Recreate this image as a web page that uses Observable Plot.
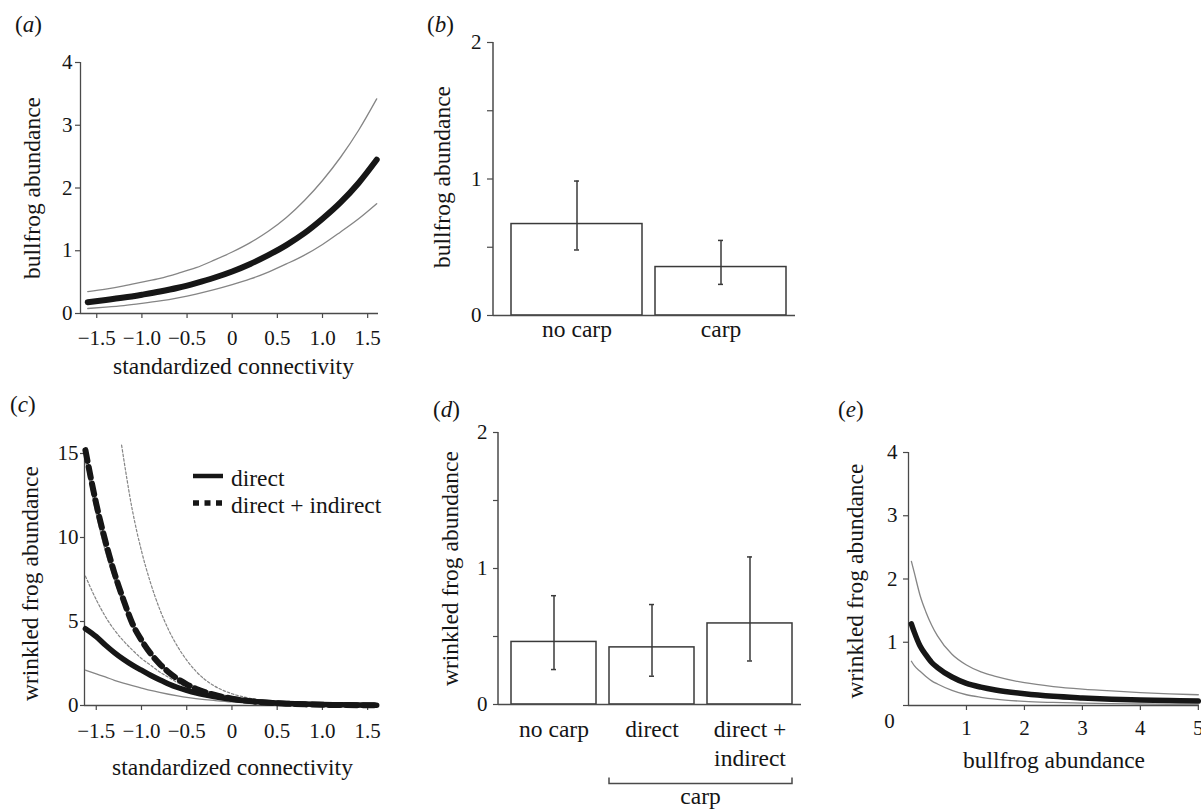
<!DOCTYPE html>
<html><head><meta charset="utf-8">
<script src="https://cdn.jsdelivr.net/npm/d3@7"></script>
<script src="https://cdn.jsdelivr.net/npm/@observablehq/plot@0.6"></script>
<style>
body{margin:0;background:#fff;}
#fig{position:relative;width:1201px;height:809px;overflow:hidden;font-family:"Liberation Serif","Times New Roman",serif;color:#151515;}
.plabel{position:absolute;font-size:23px;line-height:23px;}
</style></head><body><div id="fig"></div>
<script>
// ---------- data ----------
const panelLabels = ["a", "b", "c", "d", "e"];

// (a) bullfrog abundance vs connectivity
const aX     = [-1.6,-1.4,-1.2,-1.0,-0.8,-0.6,-0.4,-0.2,0,0.2,0.4,0.6,0.8,1.0,1.2,1.4,1.6];
const aMean  = [0.18,0.215,0.254,0.30,0.35,0.41,0.485,0.57,0.67,0.79,0.93,1.09,1.28,1.51,1.77,2.08,2.45];
const aUpper = [0.35,0.39,0.44,0.50,0.56,0.64,0.73,0.85,0.98,1.13,1.31,1.53,1.80,2.12,2.49,2.92,3.42];
const aLower = [0.08,0.10,0.125,0.16,0.20,0.25,0.31,0.38,0.46,0.55,0.66,0.79,0.93,1.10,1.30,1.51,1.75];
const connTicks = [-1.5,-1.0,-0.5,0,0.5,1.0,1.5];
const connTickLabels = ["\u22121.5","\u22121.0","\u22120.5","0","0.5","1.0","1.5"];

// (b) bullfrog abundance by carp
const bCats = ["no carp", "carp"];
const bVals = [0.67, 0.355];
const bLo   = [0.48, 0.228];
const bHi   = [0.985, 0.55];

// (c) wrinkled frog abundance vs connectivity
const cX = [-1.62,-1.5,-1.4,-1.3,-1.2,-1.1,-1.0,-0.9,-0.8,-0.7,-0.6,-0.5,-0.4,-0.3,-0.2,0,0.2,0.4,0.6,0.8,1.0,1.2,1.4,1.6];
const cDirectMean  = [4.57,4.1,3.6,3.15,2.75,2.4,2.1,1.8,1.53,1.28,1.07,0.9,0.75,0.63,0.53,0.37,0.26,0.18,0.125,0.088,0.062,0.044,0.031,0.022];
const cDirectUpper = [14.6,11.4,9.2,7.5,6.0,4.8,3.85,3.1,2.5,2.02,1.65,1.35,1.1,0.9,0.75,0.52,0.36,0.25,0.18,0.13,0.1,0.075,0.057,0.044];
const cDirectLower = [2.1,1.88,1.7,1.5,1.33,1.18,1.04,0.9,0.78,0.67,0.57,0.48,0.41,0.35,0.3,0.21,0.15,0.1,0.07,0.05,0.035,0.025,0.018,0.013];
const cTotalMean   = [15.2,12.0,9.8,7.9,6.3,4.87,3.89,3.1,2.48,1.98,1.58,1.26,1.0,0.8,0.64,0.41,0.26,0.17,0.11,0.07,0.044,0.028,0.018,0.012];
const cTotalLower  = [7.7,6.3,5.3,4.5,3.85,3.3,2.8,2.4,2.0,1.68,1.35,1.08,0.85,0.68,0.54,0.33,0.2,0.12,0.075,0.047,0.03,0.019,0.012,0.008];
const cUpX         = [-1.22,-1.1,-1.0,-0.9,-0.8,-0.7,-0.6,-0.5,-0.4,-0.3,-0.2,0,0.2,0.4,0.6,0.8,1.0,1.2,1.4,1.6];
const cTotalUpper  = [15.5,11.6,9.2,7.3,5.75,4.5,3.5,2.7,2.05,1.55,1.18,0.7,0.43,0.27,0.17,0.11,0.075,0.05,0.035,0.025];
const legendLabels = ["direct", "direct + indirect"];

// (d) wrinkled frog abundance by treatment
const dCats   = ["no carp", "direct", "direct + indirect"];
const dLabels = ["no carp", "direct", "direct +\nindirect"];
const dVals = [0.46, 0.42, 0.596];
const dLo   = [0.257, 0.208, 0.32];
const dHi   = [0.80, 0.735, 1.085];
const dGroupLabel = "carp";

// (e) wrinkled frog abundance vs bullfrog abundance
const eX     = [0.05,0.1,0.2,0.3,0.4,0.5,0.75,1.0,1.25,1.5,2.0,2.5,3.0,3.5,4.0,4.5,5.0];
const eMean  = [1.29,1.16,0.94,0.8,0.68,0.6,0.45,0.35,0.29,0.245,0.185,0.145,0.12,0.1,0.088,0.078,0.07];
const eUpper = [2.28,2.1,1.74,1.48,1.27,1.1,0.81,0.64,0.53,0.46,0.36,0.3,0.26,0.23,0.205,0.185,0.17];
const eLower = [0.7,0.63,0.54,0.46,0.39,0.34,0.24,0.17,0.13,0.1,0.065,0.048,0.036,0.029,0.024,0.02,0.018];

// ---------- helpers ----------
const FONT = '"Liberation Serif", "Times New Roman", serif';
const AXC = "#4a4a4a", GREY = "#858585", BLACK = "#161616", BARC = "#3a3a3a";
const TICKFS = 21, TXTFS = 23.5;
const fig = document.getElementById("fig");
function place(svg, left, top) {
  const d = document.createElement("div");
  d.style.cssText = `position:absolute;left:${left}px;top:${top}px;`;
  d.appendChild(svg); fig.appendChild(d);
}
function base(w, h, ml, mr, mt, mb) {
  return {width: w, height: h, marginLeft: ml, marginRight: mr, marginTop: mt, marginBottom: mb,
    style: {fontFamily: FONT, fontSize: TICKFS + "px", color: "#151515", background: "transparent", overflow: "visible"}};
}
function yTitle(t, dx, dy) {
  return Plot.text([t], {frameAnchor: "left", textAnchor: "middle", lineAnchor: "middle", dx, dy, rotate: -90, fontSize: TXTFS});
}
function xTitle(t, dx, dy) {
  return Plot.text([t], {frameAnchor: "bottom", textAnchor: "middle", lineAnchor: "middle", dx, dy, fontSize: TXTFS});
}
function leftLine(svg, ml, mt, h, mb) {
  d3.select(svg).append("line").attr("x1", ml).attr("x2", ml).attr("y1", mt).attr("y2", h - mb)
    .attr("stroke", AXC).attr("stroke-width", 1.5);
}
const connFmt = d => connTickLabels[connTicks.indexOf(d)];
const intFmt = d => String(d);
const thin = {stroke: GREY, strokeWidth: 1.3, curve: "monotone-x"};
const rowsA = aX.map((x, i) => ({x, mean: aMean[i], hi: aUpper[i], lo: aLower[i]}));
const rowsC = cX.map((x, i) => ({x, dm: cDirectMean[i], du: cDirectUpper[i], dl: cDirectLower[i], tm: cTotalMean[i], tl: cTotalLower[i]}));
const rowsCU = cUpX.map((x, i) => ({x, tu: cTotalUpper[i]}));
const rowsB = bCats.map((c, i) => ({c, v: bVals[i], lo: bLo[i], hi: bHi[i]}));
const rowsD = dCats.map((c, i) => ({c, v: dVals[i], lo: dLo[i], hi: dHi[i]}));
const rowsE = eX.map((x, i) => ({x, mean: eMean[i], hi: eUpper[i], lo: eLower[i]}));

// ---------- (a) ----------
const aDom = [-1.68, 1.62];
place(Plot.plot({
  ...base(400, 380, 80, 22, 62, 67),
  x: {domain: aDom}, y: {domain: [0, 4]},
  marks: [
    Plot.axisX({ticks: connTicks, tickFormat: connFmt, tickSize: 5, tickPadding: 12, stroke: AXC, strokeWidth: 1.2, label: null}),
    Plot.axisY({ticks: [0, 1, 2, 3, 4], tickFormat: intFmt, tickSize: 5, tickPadding: 3, stroke: AXC, strokeWidth: 1.2, label: null}),
    Plot.ruleY([0], {stroke: AXC, strokeWidth: 1.3}),
    Plot.ruleX([aDom[0]], {stroke: AXC, strokeWidth: 1.3}),
    Plot.line(rowsA, {x: "x", y: "hi", ...thin}),
    Plot.line(rowsA, {x: "x", y: "lo", ...thin}),
    Plot.line(rowsA, {x: "x", y: "mean", stroke: BLACK, strokeWidth: 6, strokeLinecap: "round", curve: "monotone-x"}),
    yTitle("bullfrog abundance", -48, 0),
    xTitle("standardized connectivity", 4, 53)
  ]
}), 0, 0);

// ---------- (b) ----------
const pb = Plot.plot({
  ...base(420, 380, 93, 25, 42, 65),
  x: {domain: bCats, paddingInner: 0.09, paddingOuter: 0.09, align: 0.65, axis: null},
  y: {domain: [0, 2]},
  marks: [
    Plot.axisY({ticks: [0, 0.5, 1, 1.5, 2], tickFormat: d => Number.isInteger(d) ? String(d) : "", tickSize: 6, tickPadding: 6, stroke: AXC, strokeWidth: 1.2, label: null}),
    Plot.barY(rowsB, {x: "c", y: "v", fill: "white", stroke: BARC, strokeWidth: 1.5}),
    Plot.ruleX(rowsB, {x: "c", y1: "lo", y2: "hi", stroke: BARC, strokeWidth: 1.5}),
    Plot.tickY(rowsB, {x: "c", y: "hi", stroke: BARC, strokeWidth: 1.5, insetLeft: 63, insetRight: 63}),
    Plot.tickY(rowsB, {x: "c", y: "lo", stroke: BARC, strokeWidth: 1.5, insetLeft: 63, insetRight: 63}),
    Plot.ruleY([0], {stroke: AXC, strokeWidth: 1.5}),
    Plot.text(bCats, {x: d => d, text: d => d, frameAnchor: "bottom", textAnchor: "middle", lineAnchor: "top", dy: 5, fontSize: TXTFS}),
    yTitle("bullfrog abundance", -51, -2)
  ]
});
leftLine(pb, 93, 42, 380, 65);
place(pb, 400, 0);

// ---------- (c) ----------
const cDom = [-1.63, 1.62];
const pc = Plot.plot({
  ...base(400, 419, 84, 22, 63, 104),
  x: {domain: cDom}, y: {domain: [0, 15]},
  marks: [
    Plot.axisX({ticks: connTicks, tickFormat: connFmt, tickSize: 5, tickPadding: 13, stroke: AXC, strokeWidth: 1.2, label: null}),
    Plot.axisY({ticks: [0, 5, 10, 15], tickFormat: intFmt, tickSize: 4, tickPadding: 2, stroke: AXC, strokeWidth: 1.2, label: null}),
    Plot.ruleY([0], {stroke: AXC, strokeWidth: 1.3}),
    Plot.ruleX([cDom[0]], {stroke: AXC, strokeWidth: 1.3}),
    Plot.line(rowsC, {x: "x", y: "dl", ...thin}),
    Plot.line(rowsC, {x: "x", y: "du", ...thin}),
    Plot.line(rowsC, {x: "x", y: "tl", stroke: GREY, strokeWidth: 1.2, strokeDasharray: "2.5,2", curve: "monotone-x"}),
    Plot.line(rowsCU, {x: "x", y: "tu", stroke: GREY, strokeWidth: 1.2, strokeDasharray: "2.5,2", curve: "monotone-x"}),
    Plot.line(rowsC, {x: "x", y: "dm", stroke: BLACK, strokeWidth: 5.5, strokeLinecap: "round", curve: "monotone-x"}),
    Plot.line(rowsC, {x: "x", y: "tm", stroke: BLACK, strokeWidth: 6, strokeDasharray: "11,6", curve: "monotone-x"}),
    yTitle("wrinkled frog abundance", -54, 4),
    xTitle("standardized connectivity", 1, 62)
  ]
});
{
  // legend (panel c), positions in the svg's own pixels
  const g = d3.select(pc).append("g");
  const items = [{y: 86, dash: null, w: 4.5}, {y: 113, dash: "6,5.5", w: 5.5}];
  items.forEach((it, i) => {
    g.append("line").attr("x1", 193).attr("x2", 223).attr("y1", it.y).attr("y2", it.y)
      .attr("stroke", BLACK).attr("stroke-width", it.w).attr("stroke-dasharray", it.dash);
    g.append("text").attr("x", 231).attr("y", it.y + 10).attr("fill", "#151515").attr("text-anchor", "start")
      .attr("font-family", FONT).attr("font-size", TXTFS).text(legendLabels[i]);
  });
}
place(pc, 0, 390);

// ---------- (d) ----------
const pd = Plot.plot({
  ...base(420, 419, 98, 19, 42, 105),
  x: {domain: dCats, paddingInner: 0.13, paddingOuter: 0.1, align: 0.61, axis: null},
  y: {domain: [0, 2]},
  marks: [
    Plot.axisY({ticks: [0, 0.5, 1, 1.5, 2], tickFormat: d => Number.isInteger(d) ? String(d) : "", tickSize: 5, tickPadding: 6, stroke: AXC, strokeWidth: 1.2, label: null}),
    Plot.barY(rowsD, {x: "c", y: "v", fill: "white", stroke: BARC, strokeWidth: 1.5}),
    Plot.ruleX(rowsD, {x: "c", y1: "lo", y2: "hi", stroke: BARC, strokeWidth: 1.5}),
    Plot.tickY(rowsD, {x: "c", y: "hi", stroke: BARC, strokeWidth: 1.5, insetLeft: 40, insetRight: 40}),
    Plot.tickY(rowsD, {x: "c", y: "lo", stroke: BARC, strokeWidth: 1.5, insetLeft: 40, insetRight: 40}),
    Plot.ruleY([0], {stroke: AXC, strokeWidth: 1.5}),
    Plot.text(dCats, {x: d => d, text: (d, i) => dLabels[i], frameAnchor: "bottom", textAnchor: "middle", lineAnchor: "top", lineHeight: 1.22, dy: 12, fontSize: TXTFS}),
    yTitle("wrinkled frog abundance", -48, 0)
  ]
});
leftLine(pd, 98, 42, 419, 105);
{
  const sx = pd.scale("x");
  const x1 = sx.apply(dCats[1]), x2 = sx.apply(dCats[2]) + sx.bandwidth;
  const g = d3.select(pd).append("g");
  g.append("path").attr("d", `M${x1},387.5V393.5H${x2}V387.5`).attr("fill", "none")
    .attr("stroke", AXC).attr("stroke-width", 1.5);
  g.append("text").attr("x", (x1 + x2) / 2).attr("y", 414).attr("text-anchor", "middle")
    .attr("fill", "#151515").attr("font-family", FONT).attr("font-size", TXTFS).text(dGroupLabel);
}
place(pd, 400, 390);

// ---------- (e) ----------
const eDom = [0, 5.02];
place(Plot.plot({
  ...base(401, 419, 108, 2, 62, 104),
  x: {domain: eDom}, y: {domain: [0, 4]},
  marks: [
    Plot.axisX({ticks: [1, 2, 3, 4, 5], tickFormat: intFmt, tickSize: 5, tickPadding: 10, stroke: AXC, strokeWidth: 1.2, label: null}),
    Plot.axisY({ticks: [0, 1, 2, 3, 4], tickFormat: d => d === 0 ? "" : String(d), tickSize: 5, tickPadding: 6, stroke: AXC, strokeWidth: 1.2, label: null}),
    Plot.ruleY([0], {stroke: AXC, strokeWidth: 1.3}),
    Plot.ruleX([eDom[0]], {stroke: AXC, strokeWidth: 1.3}),
    Plot.line(rowsE, {x: "x", y: "hi", ...thin}),
    Plot.line(rowsE, {x: "x", y: "lo", ...thin}),
    Plot.line(rowsE, {x: "x", y: "mean", stroke: BLACK, strokeWidth: 5.5, strokeLinecap: "round", curve: "monotone-x"}),
    Plot.text(["0"], {frameAnchor: "bottom-left", textAnchor: "middle", lineAnchor: "middle", dx: -19, dy: 16}),
    yTitle("wrinkled frog abundance", -53, 2),
    xTitle("bullfrog abundance", 0, 55)
  ]
}), 800, 390);

// ---------- panel letters ----------
const letterPos = [[15, 13], [427, 13], [10, 393], [433, 398], [838, 398]];
panelLabels.forEach((l, i) => {
  const d = document.createElement("div");
  d.className = "plabel";
  d.style.left = letterPos[i][0] + "px"; d.style.top = letterPos[i][1] + "px";
  d.innerHTML = `(<i>${l}</i>)`;
  fig.appendChild(d);
});
</script></body></html>
